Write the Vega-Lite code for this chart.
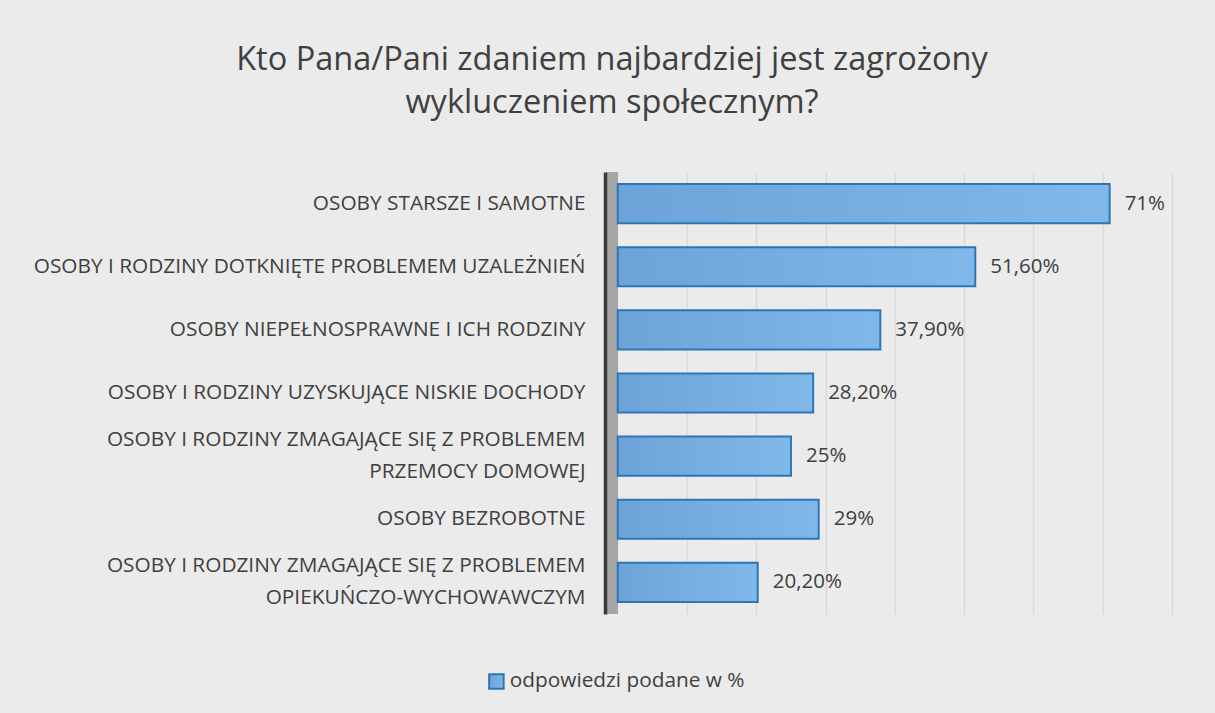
{
  "$schema": "https://vega.github.io/schema/vega-lite/v6.json",
  "autosize": "none",
  "width": 566,
  "height": 442,
  "padding": {"left": 606, "top": 172, "right": 43, "bottom": 99},
  "background": "#ebebeb",
  "title": {
    "text": ["Kto Pana/Pani zdaniem najbardziej jest zagrożony", "wykluczeniem społecznym?"],
    "anchor": "middle",
    "frame": "group",
    "dx": -277,
    "offset": 47,
    "font": "Open Sans",
    "fontSize": 32.5,
    "fontWeight": "normal",
    "color": "#404040",
    "lineHeight": 43
  },
  "datasets": {
    "odpowiedzi": [
      {"kategoria": "OSOBY STARSZE I SAMOTNE", "wartosc": 71, "etykieta": "71%"},
      {"kategoria": "OSOBY I RODZINY DOTKNIĘTE PROBLEMEM UZALEŻNIEŃ", "wartosc": 51.6, "etykieta": "51,60%"},
      {"kategoria": "OSOBY NIEPEŁNOSPRAWNE I ICH RODZINY", "wartosc": 37.9, "etykieta": "37,90%"},
      {"kategoria": "OSOBY I RODZINY UZYSKUJĄCE NISKIE DOCHODY", "wartosc": 28.2, "etykieta": "28,20%"},
      {"kategoria": "OSOBY I RODZINY ZMAGAJĄCE SIĘ  Z PROBLEMEM|PRZEMOCY DOMOWEJ", "wartosc": 25, "etykieta": "25%"},
      {"kategoria": "OSOBY BEZROBOTNE", "wartosc": 29, "etykieta": "29%"},
      {"kategoria": "OSOBY I RODZINY ZMAGAJĄCE SIĘ Z PROBLEMEM|OPIEKUŃCZO-WYCHOWAWCZYM", "wartosc": 20.2, "etykieta": "20,20%"}
    ]
  },
  "data": {"name": "odpowiedzi"},
  "layer": [
    {
      "mark": {"type": "rule", "color": "#a6a6a6", "strokeWidth": 11},
      "encoding": {
        "x": {"datum": -0.83, "type": "quantitative"}
      }
    },
    {
      "mark": {"type": "bar", "strokeWidth": 2},
      "encoding": {
        "y": {
          "field": "kategoria",
          "type": "nominal",
          "sort": null,
          "scale": {"paddingInner": 0.38, "paddingOuter": 0.19},
          "axis": {
            "title": null,
            "ticks": false,
            "offset": 1,
            "zindex": 1,
            "domainColor": "#3a3a3a",
            "domainWidth": 3.5,
            "labelPadding": 20,
            "labelFont": "Open Sans",
            "labelFontSize": 20.8,
            "labelColor": "#404040",
            "labelLimit": 700,
            "labelLineHeight": 32,
            "labelOffset": {"condition": {"test": "indexof(datum.value, '|') >= 0", "value": -16}, "value": 0},
            "labelExpr": "split(datum.value, '|')"
          }
        },
        "x": {
          "field": "wartosc",
          "type": "quantitative",
          "scale": {"domain": [-1.7, 80], "nice": false, "zero": false},
          "axis": {
            "title": null,
            "values": [10, 20, 30, 40, 50, 60, 70, 80],
            "grid": true,
            "gridColor": "#d9d9d9",
            "gridWidth": 1.5,
            "labels": false,
            "ticks": false,
            "domain": false
          }
        },
        "x2": {"datum": 0},
        "fill": {
          "value": {
            "gradient": "linear",
            "x1": 0, "y1": 0, "x2": 1, "y2": 0,
            "stops": [
              {"offset": 0, "color": "#6ca4d9"},
              {"offset": 1, "color": "#80b8ea"}
            ]
          }
        },
        "stroke": {
          "datum": "odpowiedzi podane w %",
          "type": "nominal",
          "scale": {"range": ["#2e75b6"]},
          "legend": {
            "title": null,
            "orient": "none",
            "legendX": -120,
            "legendY": 499,
            "symbolType": "square",
            "symbolSize": 210,
            "symbolFillColor": "#74aade",
            "symbolStrokeWidth": 2,
            "symbolOpacity": 1,
            "labelFont": "Open Sans",
            "labelFontSize": 20.8,
            "labelColor": "#404040",
            "labelOffset": 3,
            "labelLimit": 400
          }
        }
      }
    },
    {
      "mark": {"type": "text", "align": "left", "baseline": "middle", "dx": 15, "font": "Open Sans", "fontSize": 20.5, "color": "#404040"},
      "encoding": {
        "y": {
          "field": "kategoria",
          "type": "nominal",
          "sort": null
        },
        "x": {"field": "wartosc", "type": "quantitative"},
        "text": {"field": "etykieta"}
      }
    }
  ],
  "config": {
    "view": {"stroke": null}
  }
}
